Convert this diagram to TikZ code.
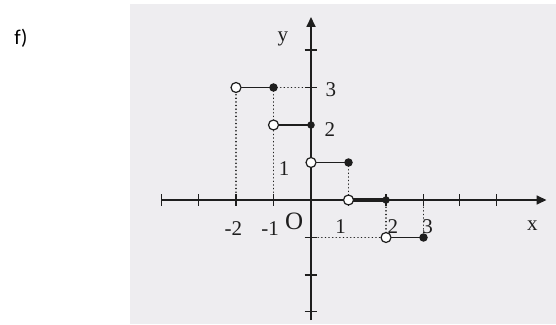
\documentclass[tikz,border=0pt]{standalone}
\usepackage{fontspec}
\setmainfont{Liberation Serif}
\newfontfamily\labelfont{Carlito}
\usetikzlibrary{arrows.meta}
\definecolor{paper}{HTML}{EEEDF0}
\definecolor{ink}{HTML}{1E1E1E}
\tikzset{
  axisline/.style={line width=1.7pt, draw=ink},
  segline/.style={line width=1.4pt, draw=ink},
  guide/.style={draw=ink, line width=1.7pt, dash pattern=on 0.01pt off 3.6pt, line cap=round},
  opendot/.style={circle, draw=ink, fill=white, line width=1.2pt, inner sep=0pt, minimum size=10pt},
  closeddot/.style={circle, fill=ink, inner sep=0pt, minimum size=8.5pt},
  numlab/.style={font=\fontsize{21}{24}\selectfont, text=ink, inner sep=0pt},
  xtick/.style={draw=ink, line width=1.1pt},
}
\begin{document}
\begin{tikzpicture}[x=1pt,y=1pt]
\useasboundingbox (0,0) rectangle (556,324);
\fill[paper] (130,0) rectangle (556,320);
\node[font=\labelfont\fontsize{21}{24}\selectfont, anchor=center] (flabel) at (21,286) {f)};
\begin{scope}[shift={(311,124)}, x=37.5pt, y=37.5pt]
  % axes
  \coordinate (xl) at (-3.98,0);
  \coordinate (xr) at (6.28,0);
  \coordinate (yb) at (0,-3.2);
  \coordinate (yt) at (0,4.88);
  \draw[axisline, -{Triangle[length=10pt,width=9pt]}] (xl) -- (xr);
  \draw[axisline, -{Triangle[length=10pt,width=9pt]}] (yb) -- (yt);
  % x ticks
  \foreach \t in {-3.98,-3,-2,-1,1,2,3,3.97,4.95}
    \draw[xtick] (\t,-0.15) -- (\t,0.15);
  % y ticks
  \foreach \t in {4,3,-1,-2,-2.97}
    \draw[xtick, line width=1.5pt] (-0.17,\t) -- (0.17,\t);
  % points
  \coordinate (a1) at (-2,3); \coordinate (b1) at (-1,3);
  \coordinate (a2) at (-1,2); \coordinate (b2) at (0,2);
  \coordinate (a3) at (0,1);  \coordinate (b3) at (1,1);
  \coordinate (a4) at (1,0);  \coordinate (b4) at (2,0);
  \coordinate (a5) at (2,-1); \coordinate (b5) at (3,-1);
  \coordinate (y3) at (0,3); \coordinate (ym1) at (0,-1);
  \coordinate (xm2) at (-2,0); \coordinate (xm1) at (-1,0);
  \coordinate (x1) at (1,0); \coordinate (x3) at (3,0); \coordinate (x2) at (2,0);
  % dotted guides
  \draw[guide] (a1) -- (xm2);
  \draw[guide] (b1) -- (xm1);
  \draw[guide] (b1) -- (y3);
  \draw[guide] (b3) -- (x1);
  \draw[guide] (ym1) -- (a5);
  \draw[guide] (x2) -- (a5);
  \draw[guide] (x3) -- (b5);
  % segments
  \draw[segline] (a1) -- (b1);
  \draw[segline] (a2) -- (b2);
  \draw[segline] (a3) -- (b3);
  \draw[segline, line width=3.4pt] (a4) -- (b4);
  \draw[segline] (a5) -- (b5);
  % dots
  \node[opendot] (oa1) at (a1) {}; \node[closeddot] (cb1) at (b1) {};
  \node[opendot] (oa2) at (a2) {}; \node[closeddot, minimum size=7.5pt] (cb2) at (b2) {};
  \node[opendot] (oa3) at (a3) {}; \node[closeddot] (cb3) at (b3) {};
  \node[opendot] (oa4) at (a4) {}; \node[closeddot, minimum size=7.5pt] (cb4) at (b4) {};
  \node[opendot] (oa5) at (a5) {}; \node[closeddot] (cb5) at (b5) {};
  % labels
  \node[numlab] (ly) at (-0.75,4.3) {y};
  \node[numlab] (l3) at (0.53,2.93) {3};
  \node[numlab] (l2) at (0.5,1.87) {2};
  \node[numlab] (l1) at (-0.72,0.85) {1};
  \node[numlab] (lm2) at (-2.07,-0.75) {-2};
  \node[numlab] (lm1) at (-1.09,-0.75) {-1};
  \node[numlab, font=\fontsize{25}{28}\selectfont] (lO) at (-0.45,-0.56) {O};
  \node[numlab] (lx1) at (0.79,-0.72) {1};
  \node[numlab] (lx2) at (2.18,-0.72) {2};
  \node[numlab] (lx3) at (3.11,-0.72) {3};
  \node[numlab] (lx) at (5.9,-0.68) {x};
\end{scope}
\end{tikzpicture}
\end{document}
